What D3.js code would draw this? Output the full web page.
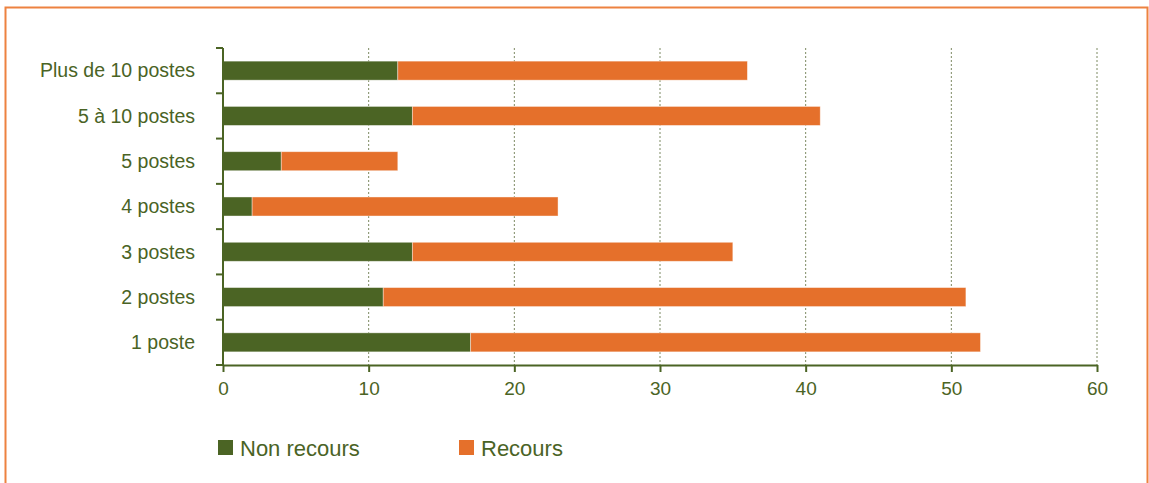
<!DOCTYPE html>
<html>
<head>
<meta charset="utf-8">
<script src="https://cdn.jsdelivr.net/npm/d3@7"></script>
<style>
  body { margin: 0; background: #fff; }
  text { font-family: "Liberation Sans", Arial, sans-serif; fill: #4a6325; }
</style>
</head>
<body>
<svg width="1149" height="483"></svg>
<script>
// categories, top to bottom
var categories = ["Plus de 10 postes", "5 à 10 postes", "5 postes", "4 postes", "3 postes", "2 postes", "1 poste"];
var nonRecours = [12, 13, 4, 2, 13, 11, 17];
var recours = [24, 28, 8, 21, 22, 40, 35];
var seriesNames = ["Non recours", "Recours"];
var xTicks = [0, 10, 20, 30, 40, 50, 60];

var green = "#4b6424", orange = "#e5702b";

var svg = d3.select("svg"),
    width = +svg.attr("width"),
    height = +svg.attr("height");

// frame
svg.append("path")
    .attr("d", "M5.5,483 V7.5 H1147.5 V483")
    .attr("fill", "none")
    .attr("stroke", "#ed8240")
    .attr("stroke-width", 2);

var x = d3.scaleLinear().domain([0, 60]).range([223, 1097]);
var y = d3.scaleBand().domain(categories).range([48, 365]).paddingInner(0.58).paddingOuter(0.29);

var table = categories.map(function(c, i) {
  return { cat: c, "Non recours": nonRecours[i], "Recours": recours[i] };
});
var stack = d3.stack().keys(seriesNames)(table);
var color = d3.scaleOrdinal().domain(seriesNames).range([green, orange]);

// dotted gridlines
svg.append("g").selectAll("line")
  .data(xTicks.slice(1))
  .enter().append("line")
    .attr("x1", function(d) { return x(d); })
    .attr("x2", function(d) { return x(d); })
    .attr("y1", 48).attr("y2", 365)
    .attr("stroke", "#7d8a63")
    .attr("stroke-width", 1)
    .attr("stroke-dasharray", "2,2");

// bars
svg.append("g").selectAll("g")
  .data(stack)
  .enter().append("g")
    .attr("fill", function(d) { return color(d.key); })
  .selectAll("rect")
  .data(function(d) { return d; })
  .enter().append("rect")
    .attr("x", function(d) { return x(d[0]); })
    .attr("width", function(d) { return x(d[1]) - x(d[0]); })
    .attr("y", function(d) { return y(d.data.cat); })
    .attr("height", y.bandwidth())
    .attr("stroke", "#fff")
    .attr("stroke-opacity", 0.5)
    .attr("stroke-width", 0.8);

// x axis
var xAxis = svg.append("g")
    .attr("transform", "translate(0,365)")
    .call(d3.axisBottom(x).tickValues(xTicks).tickSize(7).tickSizeOuter(0).tickPadding(10));
xAxis.select(".domain").attr("stroke", green).attr("stroke-width", 2);
xAxis.selectAll(".tick line").attr("stroke", green).attr("stroke-width", 2);
xAxis.selectAll("text").style("font-size", "19px").style("fill", green);
xAxis.append("line").attr("x1", 216).attr("x2", 223).attr("stroke", green).attr("stroke-width", 2);

// y axis
var step = y.step();
var yAxis = svg.append("g");
yAxis.append("line")
    .attr("x1", 223).attr("x2", 223).attr("y1", 48).attr("y2", 365)
    .attr("stroke", green).attr("stroke-width", 2);
yAxis.selectAll("line.yt")
  .data(categories)
  .enter().append("line")
    .attr("class", "yt")
    .attr("x1", 216).attr("x2", 223)
    .attr("y1", function(d) { return y(d) + y.bandwidth() / 2 - step / 2; })
    .attr("y2", function(d) { return y(d) + y.bandwidth() / 2 - step / 2; })
    .attr("stroke", green).attr("stroke-width", 2);
yAxis.selectAll("text")
  .data(categories)
  .enter().append("text")
    .attr("x", 195)
    .attr("y", function(d) { return y(d) + y.bandwidth() / 2; })
    .attr("dy", "0.35em")
    .attr("text-anchor", "end")
    .style("font-size", "19.5px")
    .text(function(d) { return d; });

// legend
var legendX = [218, 459];
var legend = svg.append("g").selectAll("g")
  .data(seriesNames)
  .enter().append("g")
    .attr("transform", function(d, i) { return "translate(" + legendX[i] + ",440)"; });
legend.append("rect").attr("width", 15).attr("height", 15)
    .attr("fill", function(d) { return color(d); });
legend.append("text").attr("x", 22).attr("y", 8).attr("dy", "0.35em")
    .style("font-size", "22px")
    .text(function(d) { return d; });
</script>
</body>
</html>
